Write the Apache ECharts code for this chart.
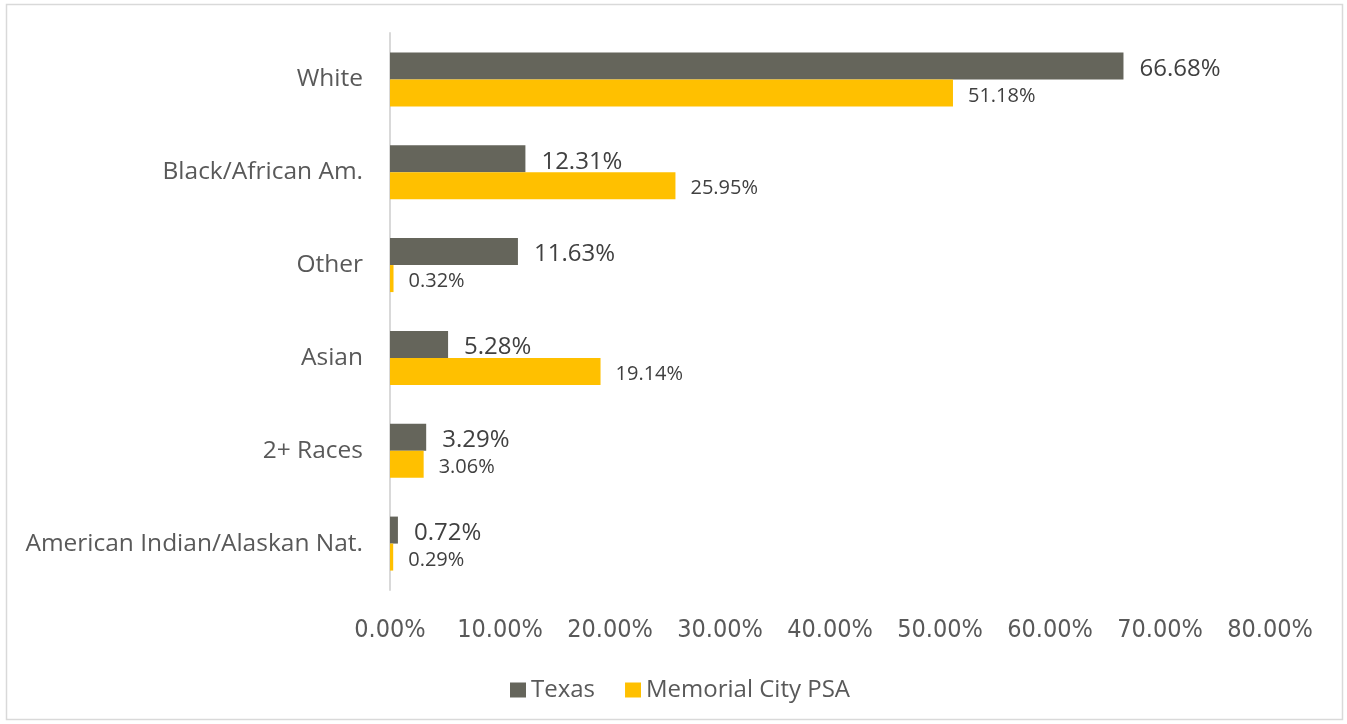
<!DOCTYPE html>
<html>
<head>
<meta charset="utf-8">
<script src="https://cdn.jsdelivr.net/npm/echarts@6/dist/echarts.min.js"></script>
<style>
  html, body { margin: 0; padding: 0; background: #fff; }
  #chart { width: 1347px; height: 724px; }
</style>
</head>
<body>
<div id="chart"></div>
<script>
// categories listed bottom to top (category axis grows upward)
const categories = ['American Indian/Alaskan Nat.', '2+ Races', 'Asian', 'Other', 'Black/African Am.', 'White']
const texasValues = [0.72, 3.29, 5.28, 11.63, 12.31, 66.68]
const memorialValues = [0.29, 3.06, 19.14, 0.32, 25.95, 51.18]
const seriesNames = ['Texas', 'Memorial City PSA']
const axisMax = 80
const axisStep = 10

const chart = echarts.init(document.getElementById('chart'))

const pct = p => p.value.toFixed(2) + '%'

chart.setOption({
  animation: false,
  textStyle: { fontFamily: 'Open Sans' },
  graphic: [{
    type: 'rect',
    shape: { x: 6.5, y: 4.5, width: 1336, height: 715 },
    style: { fill: 'none', stroke: '#d9d9d9', lineWidth: 1.5 },
    silent: true
  }],
  legend: {
    data: seriesNames,
    left: 505,
    top: 673,
    itemWidth: 16,
    itemHeight: 15,
    itemGap: 30,
    icon: 'rect',
    textStyle: { fontSize: 24, color: '#595959', fontFamily: 'Open Sans' }
  },
  grid: {
    left: 390,
    right: 77,
    top: 33,
    bottom: 134,
    containLabel: false
  },
  xAxis: {
    type: 'value',
    min: 0,
    max: axisMax,
    interval: axisStep,
    axisLine: { show: false },
    axisTick: { show: false },
    splitLine: { show: false },
    axisLabel: {
      margin: 28,
      fontSize: 25,
      color: '#595959',
      fontFamily: 'DejaVu Sans Condensed',
      formatter: v => v.toFixed(2) + '%'
    }
  },
  yAxis: {
    type: 'category',
    data: categories,
    axisLine: { show: true, lineStyle: { color: '#d9d9d9', width: 2 } },
    axisTick: { show: false },
    axisLabel: {
      margin: 27,
      fontSize: 24.5,
      color: '#595959',
      fontFamily: 'Open Sans',
      padding: [5, 0, 0, 0]
    }
  },
  series: [{
    name: seriesNames[0],
    type: 'bar',
    data: texasValues,
    barWidth: 27,
    barGap: '0%',
    itemStyle: { color: '#65655b' },
    label: {
      show: true,
      position: 'right',
      distance: 16,
      offset: [0, 3],
      fontSize: 24,
      color: '#404040',
      fontFamily: 'Open Sans',
      formatter: pct
    }
  }, {
    name: seriesNames[1],
    type: 'bar',
    data: memorialValues,
    barWidth: 27,
    barGap: '0%',
    itemStyle: { color: '#ffc000' },
    label: {
      show: true,
      position: 'right',
      distance: 15,
      offset: [0, 3],
      fontSize: 20,
      color: '#404040',
      fontFamily: 'Open Sans',
      formatter: pct
    }
  }]
})
</script>
</body>
</html>
